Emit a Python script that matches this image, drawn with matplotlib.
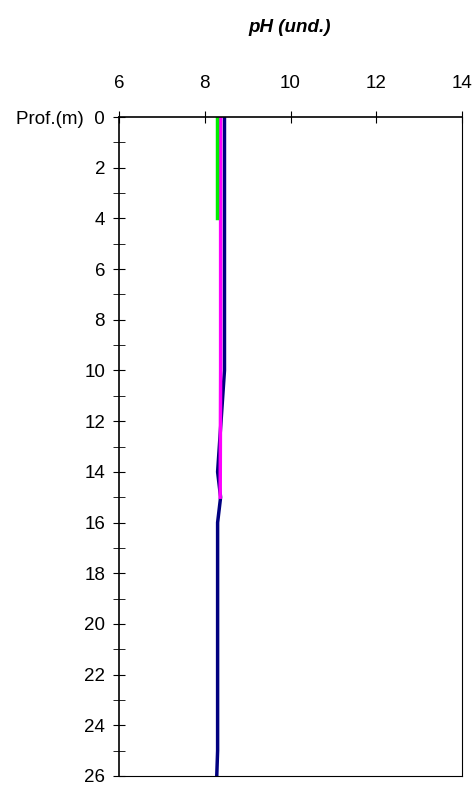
import matplotlib.pyplot as plt

plt.rcParams['font.family'] = ['Liberation Sans', 'DejaVu Sans']

# profiles: pH vs depth (m)
green_ph = [8.28, 8.28]
green_depth = [0, 4]
magenta_ph = [8.37, 8.37, 8.36]
magenta_depth = [0, 10, 15]
navy_ph = [8.46, 8.46, 8.30, 8.37, 8.30, 8.30, 8.28]
navy_depth = [0, 10, 14, 15, 16, 25, 26]

fig = plt.figure(figsize=(4.77, 7.87), dpi=100)
ax = fig.add_axes([119 / 477, 1 - 776 / 787, (462 - 119) / 477, (776 - 117) / 787])

ax.plot(navy_ph, navy_depth, color="#000080", lw=2.5)
ax.plot(magenta_ph, magenta_depth, color="#ff00ff", lw=2.5)
ax.plot(green_ph, green_depth, color="#00ee00", lw=2.5)

ax.set_xlim(6, 14)
ax.set_ylim(26, 0)
ax.xaxis.tick_top()
ax.set_xticks([6, 8, 10, 12, 14])
ax.set_yticks(range(0, 27, 2))
ax.set_yticks(range(1, 26, 2), minor=True)
ax.set_yticklabels(["Prof.(m)  0"] + [str(v) for v in range(2, 27, 2)])
ax.tick_params(axis="x", direction="inout", length=8, labelsize=13.5, pad=14)
ax.tick_params(axis="y", which="both", direction="inout", length=8, labelsize=13.5, pad=6)
for side in ["top", "left"]:
    ax.spines[side].set_linewidth(1.2)
fig.text(290 / 477, 1 - 28 / 787, "pH (und.)", ha="center", va="center",
         fontsize=13.5, fontweight="bold", fontstyle="italic")

fig.savefig("out.png")
